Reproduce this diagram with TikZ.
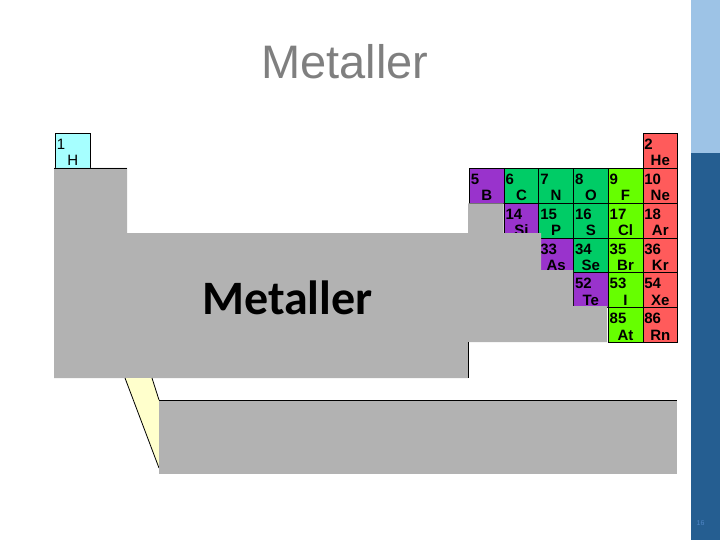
\documentclass[tikz,border=0pt]{standalone}
\usepackage{fontspec}
\setmainfont{Liberation Sans}
\newfontfamily\boxfont{Carlito}
\usetikzlibrary{positioning}
\definecolor{metalloid}{HTML}{9933CC}
\definecolor{nonmetal}{HTML}{00CC66}
\definecolor{halogen}{HTML}{66FF00}
\definecolor{noble}{HTML}{FF5B5B}
\definecolor{hydrogen}{HTML}{A6FFFF}
\definecolor{metalgray}{HTML}{B2B2B2}
\definecolor{wedge}{HTML}{FFFFCC}
\definecolor{barlight}{HTML}{9DC3E6}
\definecolor{bardark}{HTML}{255E91}
\definecolor{titlegray}{HTML}{7F7F7F}
\definecolor{pagenum}{HTML}{4F86C6}
\tikzset{
  cell/.style={draw=black, line width=0.8pt, fill=#1, minimum width=34.7pt,
    minimum height=34.85pt, inner sep=0pt, anchor=north west},
  num/.style={anchor=base west, inner sep=0pt, font=\bfseries\fontsize{15}{15}\selectfont},
  sym/.style={anchor=base, inner sep=0pt, font=\bfseries\fontsize{15}{15}\selectfont},
}

\begin{document}
\begin{tikzpicture}[x=1pt, y=-1pt, line width=0.8pt]
    \useasboundingbox (0,0) rectangle (720,540);

    % side bar
    \fill[barlight] (691,0) rectangle (720,153);
    \fill[bardark] (691,153) rectangle (720,540);
    \node[anchor=base, text=pagenum, font=\fontsize{7}{7}\selectfont] (page) at (700.5,525) {16};

    % title
    \node[anchor=base, text=titlegray, font=\fontsize{47}{47}\selectfont] (title) at (345,79) {Metaller};

    % hydrogen
    \node[cell=hydrogen] (H) at (55,133) {};
    \node[num, font=\fontsize{15}{15}\selectfont] (nH) at ([xshift=1.5pt,yshift=-16.5pt]H.north west) {1};
    \node[sym, font=\fontsize{15}{15}\selectfont] (sH) at ([yshift=2.85pt]H.south) {H};

    % p-block cells
    \foreach \c/\r/\n/\s/\k in {5/0/2/He/noble,
        0/1/5/B/metalloid, 1/1/6/C/nonmetal, 2/1/7/N/nonmetal, 3/1/8/O/nonmetal, 4/1/9/F/halogen, 5/1/10/Ne/noble,
        1/2/14/Si/metalloid, 2/2/15/P/nonmetal, 3/2/16/S/nonmetal, 4/2/17/Cl/halogen, 5/2/18/Ar/noble,
        2/3/33/As/metalloid, 3/3/34/Se/nonmetal, 4/3/35/Br/halogen, 5/3/36/Kr/noble,
        3/4/52/Te/metalloid, 4/4/53/I/halogen, 5/4/54/Xe/noble,
        4/5/85/At/halogen, 5/5/86/Rn/noble} {
      \node[cell=\k] (\s) at ({469+34.7*\c},{133+34.85*\r}) {};
      \node[num] (n\s) at ([xshift=1.5pt,yshift=-16.5pt]\s.north west) {\n};
      \node[sym] (s\s) at ([yshift=2.85pt]\s.south) {\s};
    }

    % metals block
    \fill[metalgray] (54,168) -- (127,168) -- (127,233) -- (468,233) -- (468,203.5) -- (503.7,203.5)
      -- (503.7,233) -- (541,233) -- (541,270) -- (573,270) -- (573,306) -- (607,306)
      -- (607,342) -- (468,342) -- (468,378) -- (54,378) -- cycle;
    \draw (54,168) -- (127,168);
    \draw (468,342) -- (468,378);
    \node[anchor=base, font=\boxfont\bfseries\fontsize{48}{48}\selectfont] (metals) at (287.5,314) {Metaller};

    % lanthanide link and row
    \fill[wedge] (125,378) -- (152,378) -- (159,400) -- (159,468) -- cycle;
    \draw (125,378) -- (159,468);
    \draw (152,378) -- (159,400);
    \fill[metalgray] (159,400) rectangle (677,474);
    \draw (159,400) -- (677,400);
\end{tikzpicture}
\end{document}
